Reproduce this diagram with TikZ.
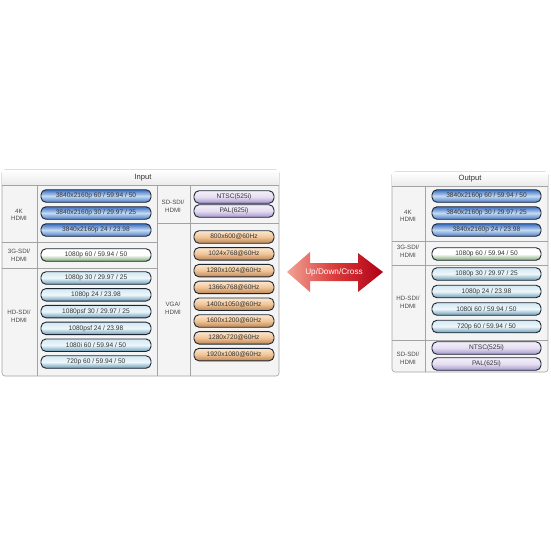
\documentclass[tikz,border=0pt]{standalone}
\usepackage{fontspec}
\setmainfont{Liberation Sans}
\usetikzlibrary{positioning}

\definecolor{btnline}{HTML}{1C2633}
\definecolor{panelline}{HTML}{A3A3A3}
\definecolor{panelfill}{HTML}{F4F4F4}
\definecolor{labeltext}{HTML}{4A4A4A}
\definecolor{uhdtop}{HTML}{3A6EC2}
\definecolor{uhdmid}{HTML}{C4DAF2}
\definecolor{uhdbot}{HTML}{4C7FCB}
\definecolor{hdtop}{HTML}{D2E8F2}
\definecolor{hdmid}{HTML}{EEF7FB}
\definecolor{hdbot}{HTML}{6A9CB6}
\definecolor{tgbot}{HTML}{7CA873}
\definecolor{sdtop}{HTML}{F4F0FA}
\definecolor{sdbot}{HTML}{A593CB}
\definecolor{vgatop}{HTML}{FCE8D2}
\definecolor{vgamid}{HTML}{F0C496}
\definecolor{vgabot}{HTML}{BC8656}
\definecolor{arrowlt}{HTML}{F2A294}
\definecolor{arrowmd}{HTML}{D93A3A}
\definecolor{arrowdk}{HTML}{B00016}

\begin{document}
\begin{tikzpicture}[x=1pt,y=-1pt,font=\fontsize{6.6}{7.6}\selectfont]
  \tikzstyle{btn}=[draw=btnline, line width=0.9pt, rounded corners=5pt,
    minimum height=12.5pt, inner sep=0pt, text=black!80]
  \tikzstyle{uhd}=[btn, minimum width=110pt, top color=uhdtop,
    bottom color=uhdbot, middle color=uhdmid]
  \tikzstyle{hd}=[btn, minimum width=110pt, top color=hdtop,
    bottom color=hdbot, middle color=hdmid]
  \tikzstyle{tg}=[btn, minimum width=110pt, top color=white,
    bottom color=tgbot, middle color=white]
  \tikzstyle{sd}=[btn, top color=sdtop, bottom color=sdbot,
    middle color=sdtop!80!sdbot]
  \tikzstyle{vga}=[btn, minimum width=80pt, top color=vgatop,
    bottom color=vgabot, middle color=vgamid]
  \tikzstyle{grp}=[align=center, text=labeltext, font=\fontsize{6.2}{7.6}\selectfont]
  \tikzstyle{panel}=[draw=panelline, line width=0.6pt]
  \tikzstyle{head}=[font=\fontsize{7.6}{9}\selectfont, text=black!80]

  \useasboundingbox[fill=white] (0,0) rectangle (550,550);

  % input panel
  \draw[panel, fill=panelfill, rounded corners=3pt] (2,170) rectangle (279,376);
  \fill[top color=white, bottom color=black!8] (2.5,170.5) rectangle (278.5,185);
  \draw[panel] (2,185) -- (279,185);
  \draw[panel] (37,185) -- (37,376);
  \draw[panel] (157,185) -- (157,376);
  \draw[panel] (190,185) -- (190,376);
  \draw[panel] (2,242) -- (157,242);
  \draw[panel] (2,268) -- (157,268);
  \draw[panel] (157,223) -- (279,223);
  \node[head] (inhead) at (143,177.5) {Input};

  \node[grp] (in4k) at (19,215) {4K\\HDMI};
  \node[grp] (in3g) at (19,255) {3G-SDI/\\HDMI};
  \node[grp] (inhdl) at (19,316) {HD-SDI/\\HDMI};
  \node[grp] (insdl) at (173,206) {SD-SDI/\\HDMI};
  \node[grp] (invgal) at (173,308) {VGA/\\HDMI};

  \foreach \txt [count=\i] in {3840x2160p 60 / 59.94 / 50, 3840x2160p 30 / 29.97 / 25,
      3840x2160p 24 / 23.98}
    \node[uhd] (inuhd\i) at (96,{196+17*(\i-1)}) {\txt};
  \node[tg] (intg) at (96,255) {1080p 60 / 59.94 / 50};
  \foreach \txt [count=\i] in {1080p 30 / 29.97 / 25, 1080p 24 / 23.98,
      1080psf 30 / 29.97 / 25, 1080psf 24 / 23.98, 1080i 60 / 59.94 / 50,
      720p 60 / 59.94 / 50}
    \node[hd] (inhd\i) at (96,{278+16.8*(\i-1)}) {\txt};
  \node[sd, minimum width=80pt] (inntsc) at (234,197) {NTSC(525i)};
  \node[sd, minimum width=80pt] (inpal) at (234,211) {PAL(625i)};
  \foreach \txt [count=\i] in {800x600@60Hz, 1024x768@60Hz, 1280x1024@60Hz,
      1366x768@60Hz, 1400x1050@60Hz, 1600x1200@60Hz, 1280x720@60Hz, 1920x1080@60Hz}
    \node[vga] (invga\i) at (234,{237+16.8*(\i-1)}) {\txt};

  % conversion arrow
  \shade[left color=arrowlt, right color=arrowdk, middle color=arrowmd]
    (287,272) -- (310,252) -- (310,263) -- (358,263) -- (358,253) -- (383,272)
    -- (358,292) -- (358,281) -- (310,281) -- (310,292) -- cycle;
  \node[text=white, font=\fontsize{8.2}{9}\selectfont] (conv) at (334,272) {Up/Down/Cross};

  % output panel
  \draw[panel, fill=panelfill, rounded corners=3pt] (392,172) rectangle (548,372);
  \fill[top color=white, bottom color=black!8] (392.5,172.5) rectangle (547.5,186);
  \draw[panel] (392,186) -- (548,186);
  \draw[panel] (425,186) -- (425,372);
  \draw[panel] (392,241) -- (548,241);
  \draw[panel] (392,265) -- (548,265);
  \draw[panel] (392,340) -- (548,340);
  \node[head] (outhead) at (470,178.5) {Output};

  \node[grp] (out4k) at (408,216) {4K\\HDMI};
  \node[grp] (out3g) at (408,251) {3G-SDI/\\HDMI};
  \node[grp] (outhdl) at (408,302) {HD-SDI/\\HDMI};
  \node[grp] (outsdl) at (408,358) {SD-SDI/\\HDMI};

  \foreach \txt [count=\i] in {3840x2160p 60 / 59.94 / 50, 3840x2160p 30 / 29.97 / 25,
      3840x2160p 24 / 23.98}
    \node[uhd, minimum width=109pt] (outuhd\i) at (486.5,{196+17*(\i-1)}) {\txt};
  \node[tg, minimum width=109pt] (outtg) at (486.5,254) {1080p 60 / 59.94 / 50};
  \foreach \txt [count=\i] in {1080p 30 / 29.97 / 25, 1080p 24 / 23.98,
      1080i 60 / 59.94 / 50, 720p 60 / 59.94 / 50}
    \node[hd, minimum width=109pt] (outhd\i) at (486.5,{274+17.5*(\i-1)}) {\txt};
  \node[sd, minimum width=109pt] (outntsc) at (486.5,348) {NTSC(525i)};
  \node[sd, minimum width=109pt] (outpal) at (486.5,364) {PAL(625i)};
\end{tikzpicture}
\end{document}
